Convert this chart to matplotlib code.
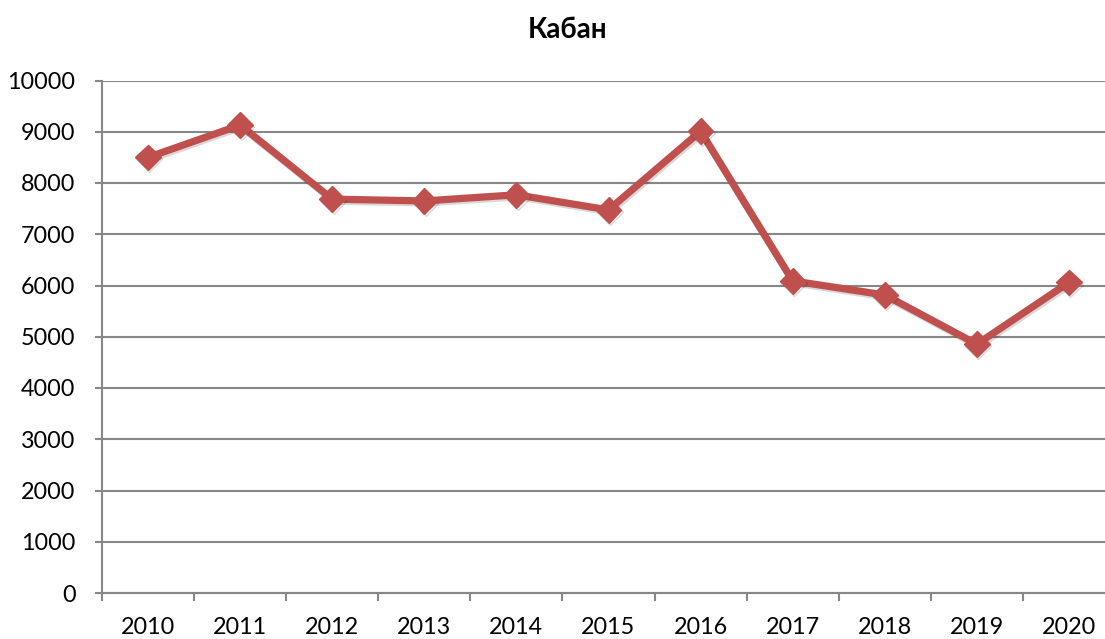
import matplotlib
matplotlib.use("Agg")
import matplotlib.pyplot as plt
import matplotlib.patheffects as pe

title = "Кабан"
years = ["2010", "2011", "2012", "2013", "2014", "2015", "2016", "2017", "2018", "2019", "2020"]
values = [8500, 9130, 7685, 7650, 7770, 7475, 9010, 6090, 5815, 4855, 6060]
yticks = [0, 1000, 2000, 3000, 4000, 5000, 6000, 7000, 8000, 9000, 10000]

plt.rcParams['font.family'] = ['Lato', 'DejaVu Sans']

W, H = 1105, 639
fig = plt.figure(figsize=(W / 100, H / 100), dpi=100)
ax = fig.add_axes([102 / W, (H - 593) / H, (1115 - 102) / W, (593 - 80.5) / H])

xs = list(range(len(years)))
ax.plot(xs, values, color="#C0504D", lw=5.2, marker="D", ms=13,
        markerfacecolor="#C0504D", markeredgecolor="#C0504D", solid_joinstyle="miter",
        zorder=3,
        path_effects=[pe.SimpleLineShadow(offset=(1, -1.5), alpha=0.15, shadow_color="black"), pe.Normal()])

ax.set_xlim(-0.5, len(years) - 0.5)
ax.set_ylim(0, 10000)
ax.set_yticks(yticks)
ax.set_yticklabels([str(v) for v in yticks])
ax.set_xticks(xs)
ax.set_xticklabels(years)
ax.set_xticks([i - 0.5 for i in range(len(years) + 1)], minor=True)

grid_c = "#878787"
for v in yticks:
    ax.axhline(v, color=grid_c, lw=1.5, zorder=1)

for s in ["top", "right"]:
    ax.spines[s].set_visible(False)
for s in ["left", "bottom"]:
    ax.spines[s].set_color(grid_c)
    ax.spines[s].set_linewidth(1.5)

ax.tick_params(axis="y", length=5, width=1.5, color=grid_c, pad=14, labelsize=16.8, labelcolor="black")
ax.tick_params(axis="x", which="major", length=0, pad=17, labelsize=16.8, labelcolor="black")
ax.tick_params(axis="x", which="minor", length=6, width=1.5, color=grid_c)

fig.text(568 / W, 1 - 30 / H, title, ha="center", va="center", fontsize=20, fontweight="bold")

fig.savefig("out.png", dpi=100, facecolor="white")
